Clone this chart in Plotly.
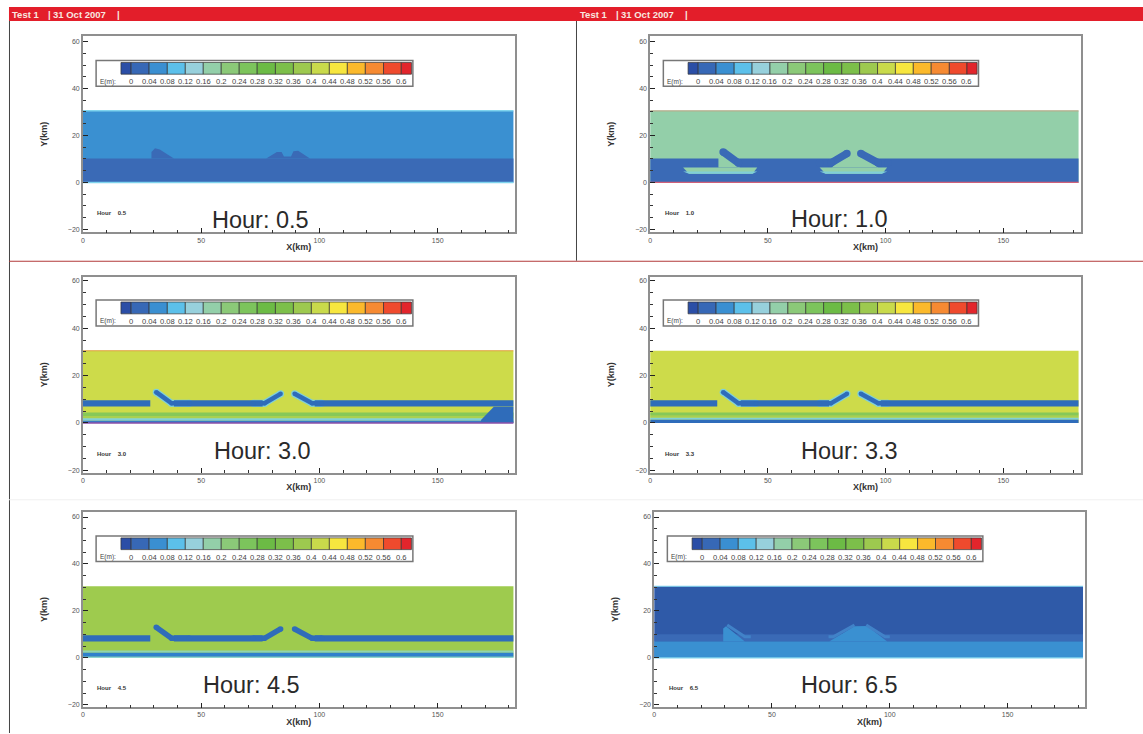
import plotly.graph_objects as go

W, H = 1143, 734

# ---------- data (km) ----------
legend_labels = ["0", "0.04", "0.08", "0.12", "0.16", "0.2", "0.24", "0.28", "0.32",
                 "0.36", "0.4", "0.44", "0.48", "0.52", "0.56", "0.6"]
legend_edges = [16.1, 20.4, 28.0, 35.7, 43.3, 50.9, 58.5, 66.1, 73.7, 81.4, 89.0,
                96.6, 104.2, 111.8, 119.4, 127.1, 134.6, 138.9]
legend_colors = ["#2b4ea6", "#3768b6", "#3a8fd1", "#5cc0ea", "#97d0dc", "#93cfa9",
                 "#8bc978", "#7cc45c", "#6cbb45", "#7cbf4a", "#9dc94f", "#c9da4b",
                 "#f7e63f", "#fbb92b", "#f68a32", "#ef4a2d", "#e2252c"]
hours = ["0.5", "1.0", "3.0", "3.3", "4.5", "6.5"]

sea_x = [0, 182, 182, 0]
sea_y = [0, 0, 30.5, 30.5]
shelf_y = [0, 0, 10.2, 10.2]

bump_a_x = [29, 29, 30.5, 32.5, 38.5]
bump_a_y = [10.2, 13, 14.5, 14, 10.2]
bump_b_x = [77.5, 82, 84, 85, 88, 89, 91, 96]
bump_b_y = [10.2, 13, 13, 11, 11, 13.3, 13.5, 10.2]

trap_a_x = [14, 45.5, 43.5, 16.5]
trap_b_x = [72, 100.7, 98.5, 74.5]
trap_y = [6.3, 6.3, 3.7, 3.7]
trap_edge_y = [4.6, 4.6, 3.7, 3.7]
wedge_a_x = [29, 29, 30.5, 38, 38]
wedge_a_y = [6.3, 10.2, 13, 7.5, 6.3]
wedge_b_x = [77, 84, 84, 89, 89, 97]
wedge_b_y = [6.3, 12, 13, 13, 12, 6.3]

stub_x = [18, 26.5]
stub_y = [8.3, 8.3]
barrier_a_x = [31, 37.5, 45]
barrier_a_y = [13, 8.3, 8.3]
barrier_b_x = [72, 76.8, 83.6]
barrier_b_y = [8.3, 8.3, 12.3]
barrier_c_x = [89.5, 96.9, 101]
barrier_c_y = [12.3, 8.3, 8.3]

band_y = [7, 7, 9.6, 9.6]
band_a_x = [0, 28.5, 28.5, 0]
band_b_x = [38.5, 76, 76, 38.5]
band_c_x = [98, 182, 182, 98]

full_x = [0, 182, 182, 0]
strip_a_y = [2.9, 2.9, 4.4, 4.4]
strip_b_y = [2, 2, 2.9, 2.9]
strip_c_y = [0.9, 0.9, 2, 2]
strip_d_y = [0, 0, 0.9, 0.9]
front_x = [173.7, 182, 182, 168, 168.4]
front_y = [6.8, 6.8, 0.2, 0.2, 1.3]

strip_e_y = [3, 3, 4.4, 4.4]
strip_f_y = [2.2, 2.2, 3, 3]
strip_g_y = [1.3, 1.3, 2.2, 2.2]
strip_h_y = [0, 0, 1.3, 1.3]

strip_i_y = [2.2, 2.2, 3.1, 3.1]
strip_j_y = [0.4, 0.4, 2.2, 2.2]
strip_k_y = [0, 0, 0.4, 0.4]

low_y = [0, 0, 7, 7]
mid_y = [7, 7, 10, 10]
ridge_a_x = [29.3, 29.3, 30.5, 38.5]
ridge_a_y = [7, 12.5, 13.5, 7]
ridge_b_x = [74.3, 85, 90.4, 98.9]
ridge_b_y = [7, 13.5, 13.6, 7]
stripe_a_x = [31, 38.5, 41]
stripe_a_y = [14, 9, 9]
stripe_b_x = [74, 76, 85]
stripe_b_y = [9, 9, 14]
stripe_c_x = [90, 98, 100]
stripe_c_y = [14, 9, 9]
top_line_x = [0, 182]
top_line_y = [30.5, 30.5]
zero_line_y = [0, 0]

# ---------- frame of each panel, in page pixels ----------
panels = [
    dict(l=81.0, r=513.5, t=36.0, b=232.7, xmax=182.5, yr=[-21.3, 62.4], label=(258.5, 220.7)),
    dict(l=649.3, r=1080.8, t=36.0, b=232.7, xmax=183.0, yr=[-21.3, 62.4], label=(838.6, 219.5)),
    dict(l=81.0, r=513.5, t=277.3, b=473.3, xmax=182.5, yr=[-21.0, 61.7], label=(261, 452)),
    dict(l=649.3, r=1080.8, t=277.3, b=473.3, xmax=183.0, yr=[-21.0, 61.7], label=(848.7, 452)),
    dict(l=81.0, r=513.5, t=512.3, b=708.3, xmax=182.5, yr=[-21.1, 62.3], label=(250.3, 685.7)),
    dict(l=653.3, r=1084.8, t=512.3, b=708.3, xmax=182.8, yr=[-21.1, 62.3], label=(848.7, 685.7)),
]

fig = go.Figure()


def area(n, x, y, color):
    fig.add_trace(go.Scatter(x=x, y=y, mode="none", fill="toself", fillcolor=color,
                             hoverinfo="skip", showlegend=False,
                             xaxis=f"x{n}", yaxis=f"y{n}"))


def stroke(n, x, y, color, width, rounded=False):
    fig.add_trace(go.Scatter(x=x, y=y, mode="lines+markers" if rounded else "lines",
                             hoverinfo="skip", showlegend=False,
                             line=dict(color=color, width=width),
                             marker=dict(color=color, size=width, line=dict(width=0)),
                             xaxis=f"x{n}", yaxis=f"y{n}"))


DARK = "#2f6cba"
HALO = "#7fd0d8"
BARRIERS = [(barrier_a_x, barrier_a_y), (barrier_b_x, barrier_b_y), (barrier_c_x, barrier_c_y)]

# Panel 1
area(1, sea_x, sea_y, "#3a90d1")
area(1, sea_x, shelf_y, "#3a6ab6")
area(1, bump_a_x, bump_a_y, "#3a6ab6")
area(1, bump_b_x, bump_b_y, "#3a6ab6")
stroke(1, top_line_x, top_line_y, "#7fd4ee", 1.5)
stroke(1, top_line_x, zero_line_y, "#7fd4ee", 1.5)

# Panel 2
area(2, sea_x, sea_y, "#93cfa9")
area(2, sea_x, shelf_y, "#3a6ab6")
area(2, trap_a_x, trap_y, "#93cfa9")
area(2, trap_b_x, trap_y, "#93cfa9")
area(2, trap_a_x, trap_edge_y, "#7fcfd8")
area(2, trap_b_x, trap_edge_y, "#7fcfd8")
area(2, wedge_a_x, wedge_a_y, "#93cfa9")
area(2, wedge_b_x, wedge_b_y, "#93cfa9")
stroke(2, stub_x, stub_y, "#3a6ab6", 7.5, True)
for bx, by in BARRIERS:
    stroke(2, bx, by, "#3a6ab6", 7.5, True)
stroke(2, top_line_x, top_line_y, "#b8ad8c", 1.2)
stroke(2, top_line_x, zero_line_y, "#d0607a", 1.2)

# Panel 3
area(3, sea_x, sea_y, "#cddb4a")
for bx, by in BARRIERS:
    stroke(3, bx, by, HALO, 7, True)
for bx in (band_a_x, band_b_x, band_c_x):
    area(3, bx, band_y, DARK)
for bx, by in BARRIERS:
    stroke(3, bx, by, DARK, 4.5, True)
area(3, full_x, strip_a_y, "#86c858")
area(3, full_x, strip_b_y, "#a8d050")
area(3, full_x, strip_c_y, "#7fd0d8")
area(3, full_x, strip_d_y, "#3a78c4")
area(3, front_x, front_y, DARK)
stroke(3, top_line_x, top_line_y, "#e0a040", 1.2)
stroke(3, top_line_x, zero_line_y, "#8a4fa8", 1.5)

# Panel 4
area(4, sea_x, sea_y, "#cddb4a")
for bx, by in BARRIERS:
    stroke(4, bx, by, HALO, 7, True)
for bx in (band_a_x, band_b_x, band_c_x):
    area(4, bx, band_y, DARK)
for bx, by in BARRIERS:
    stroke(4, bx, by, DARK, 4.5, True)
area(4, full_x, strip_e_y, "#86c858")
area(4, full_x, strip_f_y, "#a8d050")
area(4, full_x, strip_g_y, "#7fd0d8")
area(4, full_x, strip_h_y, DARK)

# Panel 5
area(5, sea_x, sea_y, "#9ecb4e")
for bx in (band_a_x, band_b_x, band_c_x):
    area(5, bx, band_y, DARK)
for bx, by in BARRIERS:
    stroke(5, bx, by, DARK, 5.5, True)
area(5, full_x, strip_i_y, "#8fd4b0")
area(5, full_x, strip_j_y, "#2f80cc")
area(5, full_x, strip_k_y, "#7fd4ee")

# Panel 6
area(6, sea_x, sea_y, "#2f5aa8")
area(6, full_x, mid_y, "#3a6ab6")
area(6, full_x, low_y, "#3a90d1")
area(6, ridge_a_x, ridge_a_y, "#3a90d1")
area(6, ridge_b_x, ridge_b_y, "#3a90d1")
for bx, by in [(stripe_a_x, stripe_a_y), (stripe_b_x, stripe_b_y), (stripe_c_x, stripe_c_y)]:
    stroke(6, bx, by, "#4182c8", 3)
stroke(6, top_line_x, top_line_y, "#7fd4ee", 1.2)
stroke(6, top_line_x, zero_line_y, "#7fd4ee", 1.2)

shapes, annotations, layout_axes = [], [], {}

for idx, p in enumerate(panels):
    n = idx + 1
    layout_axes[f"xaxis{n}"] = dict(
        domain=[p["l"] / W, p["r"] / W], anchor=f"y{n}", range=[0, p["xmax"]],
        tickmode="linear", tick0=0, dtick=50, ticks="inside", ticklen=5, tickwidth=1, tickcolor="#222",
        minor=dict(dtick=10, ticks="inside", ticklen=3, tickwidth=1, tickcolor="#333"),
        showgrid=False, zeroline=False, showline=True, mirror=True, linecolor="#8f8f8f", linewidth=1.5,
        tickfont=dict(family="Liberation Sans", size=7, color="#555"),
        title=dict(text="<b>X(km)</b>", font=dict(family="Liberation Sans", size=9, color="#333"), standoff=1),
    )
    layout_axes[f"yaxis{n}"] = dict(
        domain=[1 - p["b"] / H, 1 - p["t"] / H], anchor=f"x{n}", range=p["yr"],
        tickmode="linear", tick0=0, dtick=20, ticks="inside", ticklen=5, tickwidth=1, tickcolor="#222",
        minor=dict(dtick=5, ticks="inside", ticklen=3, tickwidth=1, tickcolor="#333"),
        showgrid=False, zeroline=False, showline=True, mirror=True, linecolor="#8f8f8f", linewidth=1.5,
        tickfont=dict(family="Liberation Sans", size=7, color="#555"),
        title=dict(text="<b>Y(km)</b>", font=dict(family="Liberation Sans", size=9, color="#333"), standoff=19),
    )
    xr, yr = f"x{n}", f"y{n}"
    shapes.append(dict(type="rect", xref=xr, yref=yr, x0=5.6, x1=139.5, y0=41.0, y1=51.9,
                       fillcolor="white", line=dict(color="#777", width=1.5)))
    for k, c in enumerate(legend_colors):
        shapes.append(dict(type="rect", xref=xr, yref=yr, x0=legend_edges[k], x1=legend_edges[k + 1],
                           y0=46.1, y1=51.1, fillcolor=c, line=dict(color="#333", width=0.7)))
    for lab, edge in zip(legend_labels, legend_edges[1:-1]):
        annotations.append(dict(text=lab, xref=xr, yref=yr, x=edge, y=42.9, showarrow=False,
                                xanchor="center", yanchor="middle",
                                font=dict(family="Liberation Sans", size=7.6, color="#444")))
    annotations.append(dict(text="E(m):", xref=xr, yref=yr, x=6.3, y=42.9, xanchor="left", yanchor="middle",
                            showarrow=False, font=dict(family="Liberation Sans", size=6.5, color="#444")))
    annotations.append(dict(text=f"<b>Hour    {hours[idx]}</b>", xref=xr, yref=yr, x=5.3, y=-13,
                            xanchor="left", yanchor="middle", showarrow=False,
                            font=dict(family="Liberation Sans", size=6, color="#333")))
    lx, ly = p["label"]
    annotations.append(dict(text=f"Hour: {hours[idx]}", xref="paper", yref="paper", x=lx / W, y=1 - ly / H,
                            xanchor="center", yanchor="middle", showarrow=False,
                            font=dict(family="Liberation Sans", size=23.5, color="#2a2a2a")))


def px_rect(x0, y0, x1, y1, color):
    shapes.append(dict(type="rect", xref="paper", yref="paper", x0=x0 / W, x1=x1 / W,
                       y0=1 - y1 / H, y1=1 - y0 / H, fillcolor=color, line=dict(width=0), layer="below"))


px_rect(7, 7, W, 21, "#e31e2a")
px_rect(7, 21, 8, H, "#444")
px_rect(575, 21, 576, 261, "#444")
px_rect(7, 261, W, 262, "#b23a3a")
px_rect(7, 500, W, 501, "#f0f0f0")

for base in (8, 577):
    for off, piece in ((0, "Test 1"), (36.5, "|"), (41, "31 Oct 2007"), (105.5, "|")):
        annotations.append(dict(text=f"<b>{piece}</b>", xref="paper", yref="paper",
                                x=(base + off) / W, y=1 - 14.5 / H, xanchor="left", yanchor="middle",
                                showarrow=False,
                                font=dict(family="Liberation Sans", size=9.5, color="#f8e8e0")))

fig.update_layout(width=W, height=H, margin=dict(l=0, r=0, t=0, b=0), autosize=False,
                  paper_bgcolor="white", plot_bgcolor="white", showlegend=False,
                  shapes=shapes, annotations=annotations, **layout_axes)

fig.write_html("out.html", config={"displayModeBar": False},
               post_script="document.body.style.margin='0';")
